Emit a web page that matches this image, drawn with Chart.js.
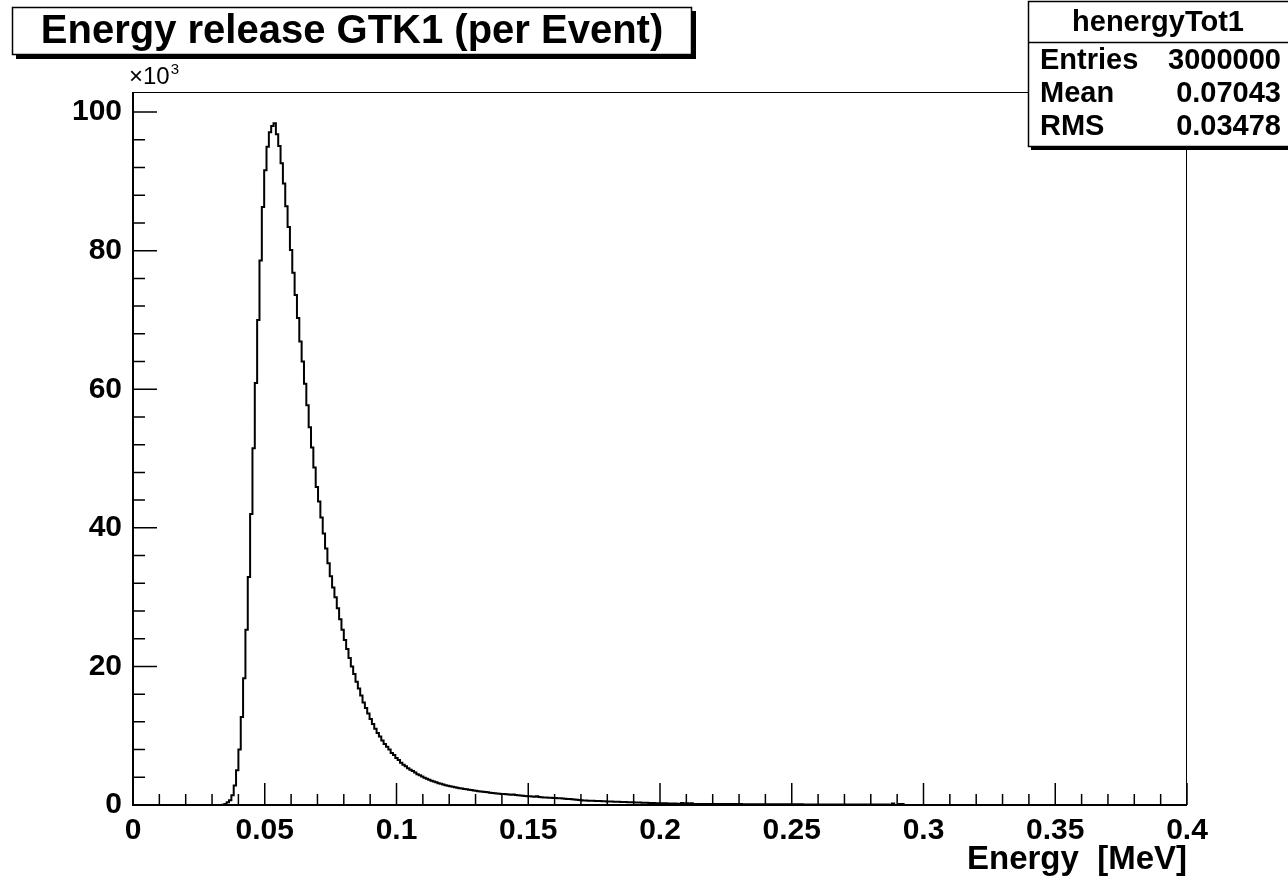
<!DOCTYPE html>
<html>
<head>
<meta charset="utf-8">
<title>Energy release GTK1 (per Event)</title>
<script src="https://cdn.jsdelivr.net/npm/chart.js@4.4.1/dist/chart.umd.min.js"></script>
<style>
  html, body { margin: 0; padding: 0; background: #fff; }
  canvas { display: block; }
</style>
</head>
<body>
<canvas id="histo" width="1288" height="880"></canvas>
<script>
// henergyTot1: 450 bins from 0 to 0.4 MeV
const nBins = 450;
const xMin = 0;
const xMax = 0.4;
const yMax = 102.9;           // in units of 10^3 entries
const firstBin = 38;          // first filled bin

// bin contents (x10^3 entries), one per bin starting at firstBin
const counts = [
  // rising edge and peak
  0.05, 0.15, 0.4, 0.7, 1.4, 2.8, 5.0, 8.0, 12.7, 18.3,
  25.3, 32.9, 42.0, 51.5, 60.9, 70.0, 78.6, 86.3, 91.6, 95.0,
  97.1, 98.0, 98.4,
  // falling edge
  96.8, 95.1, 92.6, 89.7, 86.4, 83.4, 80.1, 76.8, 73.6, 70.3,
  66.9, 64.0, 60.8, 57.7, 54.5, 51.6, 48.7, 45.9, 43.8, 41.5,
  39.2, 37.0, 34.9, 33.0, 31.4,
  30.0, 28.4, 26.8, 25.3, 23.8, 22.5, 21.2, 20.0, 18.9, 17.8,
  16.8, 15.8, 14.8, 14.0, 13.2, 12.4, 11.7, 11.0, 10.4, 9.9,
  9.3, 8.8, 8.4, 8.0, 7.5, 7.2, 6.8, 6.5, 6.1, 5.8,
  5.6, 5.3, 5.1, 4.9, 4.7, 4.45, 4.3, 4.1, 3.95, 3.8,
  3.65, 3.5, 3.4, 3.3, 3.15, 3.05, 2.95, 2.85, 2.77, 2.7,
  2.62,
  // tail
  2.55, 2.49, 2.43, 2.37, 2.31, 2.26, 2.2, 2.15, 2.1, 2.05,
  2.0, 1.95, 1.91, 1.87, 1.83, 1.78, 1.74, 1.71, 1.67, 1.63,
  1.6, 1.57, 1.54, 1.51, 1.48, 1.52, 1.43, 1.4, 1.37, 1.34,
  1.31, 1.28, 1.26, 1.23, 1.2, 1.25, 1.16, 1.13, 1.1, 1.08,
  1.06, 1.04, 1.02, 1.0, 0.98, 0.96, 0.94, 0.91,
  0.88, 0.85, 0.82, 0.79, 0.76, 0.72, 0.68, 0.66, 0.65, 0.63,
  0.62, 0.6, 0.59, 0.58, 0.56, 0.55, 0.53, 0.52, 0.51, 0.5,
  0.48, 0.47, 0.46, 0.44, 0.43, 0.42, 0.41, 0.4, 0.38, 0.37,
  0.36, 0.35, 0.33, 0.32, 0.31, 0.29, 0.28, 0.28, 0.27, 0.26,
  0.25, 0.25, 0.24, 0.23, 0.22, 0.21, 0.2, 0.19, 0.18, 0.3,
  0.17,
  0.27, 0.17, 0.24, 0.16, 0.16, 0.16, 0.16, 0.15, 0.15, 0.15,
  0.15, 0.15, 0.14, 0.14, 0.14, 0.14, 0.14, 0.14, 0.13, 0.13,
  0.13, 0.13, 0.13, 0.13, 0.12, 0.12, 0.12, 0.12, 0.12, 0.12,
  0.12, 0.11, 0.11, 0.11, 0.11, 0.11, 0.11, 0.11, 0.11, 0.1,
  0.1, 0.1, 0.1, 0.1, 0.1, 0.1, 0.1, 0.1, 0.1, 0.1,
  0.09, 0.09, 0.09, 0.09, 0.09, 0.09, 0.09, 0.09, 0.09, 0.09,
  0.09, 0.08, 0.08, 0.08, 0.08, 0.08, 0.08, 0.08, 0.08, 0.08,
  0.08, 0.08, 0.08, 0.08, 0.07, 0.07, 0.07, 0.07, 0.07, 0.07,
  0.07, 0.07, 0.07, 0.07, 0.07, 0.07, 0.07,
  0, 0.2, 0, 0, 0.15, 0.15, 0
];

const xTicks = [0, 0.05, 0.1, 0.15, 0.2, 0.25, 0.3, 0.35, 0.4];
const xTickLabels = ["0", "0.05", "0.1", "0.15", "0.2", "0.25", "0.3", "0.35", "0.4"];
const yTicks = [0, 20, 40, 60, 80, 100];
const yTickLabels = ["0", "20", "40", "60", "80", "100"];
const nMinor = 5;

const histTitle = "Energy release GTK1 (per Event)";
const xTitle = "Energy  [MeV]";
const statsName = "henergyTot1";
const statLabels = ["Entries", "Mean", "RMS"];
const statValues = ["3000000", "0.07043", "0.03478"];

const FONT = "'Liberation Sans', Arial, Helvetica, sans-serif";

// step outline: bin low edges, closed down to zero on both sides
const binWidth = (xMax - xMin) / nBins;
const points = [{ x: xMin + firstBin * binWidth, y: 0 }];
counts.forEach((c, k) => points.push({ x: xMin + (firstBin + k) * binWidth, y: c }));
points.push({ x: xMin + (firstBin + counts.length) * binWidth, y: 0 });

// frame, inward ticks, title box and stats box in ROOT style
const rootDecor = {
  id: "rootDecor",
  beforeDraw(chart) {
    const ctx = chart.ctx;
    ctx.save();
    ctx.fillStyle = "#fff";
    ctx.fillRect(0, 0, chart.width, chart.height);
    ctx.restore();
  },
  afterDraw(chart) {
    const { ctx, chartArea: a } = chart;
    const xs = chart.scales.x, ys = chart.scales.y;
    ctx.save();
    ctx.strokeStyle = "#000";
    ctx.fillStyle = "#000";

    // frame
    ctx.lineWidth = 1;
    ctx.strokeRect(a.left + 0.5, a.top + 0.5, a.right - a.left - 1, a.bottom - a.top);
    ctx.lineWidth = 2;
    ctx.beginPath();
    ctx.moveTo(a.left, a.top);
    ctx.lineTo(a.left, a.bottom);
    ctx.lineTo(a.right, a.bottom);
    ctx.stroke();

    // x ticks (pointing up into the frame)
    ctx.lineWidth = 1.5;
    ctx.beginPath();
    xTicks.forEach((v, i) => {
      const px = xs.getPixelForValue(v);
      ctx.moveTo(px, a.bottom);
      ctx.lineTo(px, a.bottom - 22);
      if (i < xTicks.length - 1) {
        const step = (xTicks[i + 1] - v) / nMinor;
        for (let j = 1; j < nMinor; j++) {
          const mx = xs.getPixelForValue(v + j * step);
          ctx.moveTo(mx, a.bottom);
          ctx.lineTo(mx, a.bottom - 11);
        }
      }
    });
    // y ticks (pointing right into the frame)
    yTicks.forEach((v, i) => {
      const py = ys.getPixelForValue(v);
      ctx.moveTo(a.left, py);
      ctx.lineTo(a.left + 24, py);
      if (i < yTicks.length - 1) {
        const step = (yTicks[i + 1] - v) / nMinor;
        for (let j = 1; j < nMinor; j++) {
          const my = ys.getPixelForValue(v + j * step);
          ctx.moveTo(a.left, my);
          ctx.lineTo(a.left + 12, my);
        }
      }
    });
    ctx.stroke();

    // exponent of the y axis
    ctx.textBaseline = "alphabetic";
    ctx.textAlign = "left";
    ctx.font = "24px " + FONT;
    ctx.fillText("\u00d710", a.left - 4, a.top - 8);
    const w10 = ctx.measureText("\u00d710").width;
    ctx.font = "15px " + FONT;
    ctx.fillText("3", a.left - 4 + w10 + 1, a.top - 18);

    // title box with shadow
    const tb = { x: 12, y: 7, w: 680, h: 48 };
    ctx.fillRect(tb.x + 4, tb.y + 4, tb.w, tb.h);
    ctx.fillStyle = "#fff";
    ctx.fillRect(tb.x, tb.y, tb.w, tb.h);
    ctx.lineWidth = 1.5;
    ctx.strokeRect(tb.x + 0.5, tb.y + 0.5, tb.w - 1, tb.h - 1);
    ctx.fillStyle = "#000";
    ctx.font = "bold 40px " + FONT;
    ctx.textAlign = "center";
    ctx.textBaseline = "middle";
    ctx.fillText(histTitle, tb.x + tb.w / 2, tb.y + tb.h / 2 + 1);

    // stats box
    const sb = { x: 1028, y: 1, w: 262, h: 146 };
    ctx.fillRect(sb.x + 3, sb.y + 3, sb.w, sb.h);
    ctx.fillStyle = "#fff";
    ctx.fillRect(sb.x, sb.y, sb.w, sb.h);
    ctx.strokeRect(sb.x + 0.5, sb.y + 0.5, sb.w - 1, sb.h - 1);
    ctx.beginPath();
    ctx.moveTo(sb.x, sb.y + 41.5);
    ctx.lineTo(sb.x + sb.w, sb.y + 41.5);
    ctx.stroke();
    ctx.fillStyle = "#000";
    ctx.font = "bold 29px " + FONT;
    ctx.textAlign = "center";
    ctx.fillText(statsName, 1158, 23);
    statLabels.forEach((lab, i) => {
      const cy = 61 + i * 33;
      ctx.textAlign = "left";
      ctx.fillText(lab, 1040, cy);
      ctx.textAlign = "right";
      ctx.fillText(statValues[i], 1281, cy);
    });

    ctx.restore();
  }
};

new Chart(document.getElementById("histo"), {
  type: "line",
  data: {
    datasets: [{
      label: statsName,
      data: points,
      borderColor: "#000",
      borderWidth: 2,
      pointRadius: 0,
      fill: false,
      stepped: true,
      tension: 0
    }]
  },
  options: {
    responsive: false,
    animation: false,
    devicePixelRatio: 1,
    layout: { padding: { left: 0, top: 92, right: 101, bottom: 0 } },
    plugins: {
      legend: { display: false },
      tooltip: { enabled: false },
      title: { display: false }
    },
    scales: {
      x: {
        type: "linear",
        min: xMin,
        max: xMax,
        grid: { display: false },
        border: { display: false },
        afterBuildTicks: (scale) => { scale.ticks = xTicks.map(v => ({ value: v })); },
        afterFit: (scale) => { scale.height = 75; },
        ticks: {
          autoSkip: false,
          maxRotation: 0,
          padding: 0,
          color: "#000",
          font: { family: FONT, size: 30, weight: "bold" },
          callback: (v, i) => xTickLabels[i]
        },
        title: {
          display: true,
          text: xTitle,
          align: "end",
          color: "#000",
          padding: { top: 0, bottom: 0 },
          font: { family: FONT, size: 33, weight: "bold" }
        }
      },
      y: {
        type: "linear",
        min: 0,
        max: yMax,
        grid: { display: false },
        border: { display: false },
        afterBuildTicks: (scale) => { scale.ticks = yTicks.map(v => ({ value: v })); },
        afterFit: (scale) => { scale.width = 133; },
        ticks: {
          padding: 3,
          color: "#000",
          font: { family: FONT, size: 30, weight: "bold" },
          callback: (v, i) => yTickLabels[i]
        }
      }
    }
  },
  plugins: [rootDecor]
});
</script>
</body>
</html>
